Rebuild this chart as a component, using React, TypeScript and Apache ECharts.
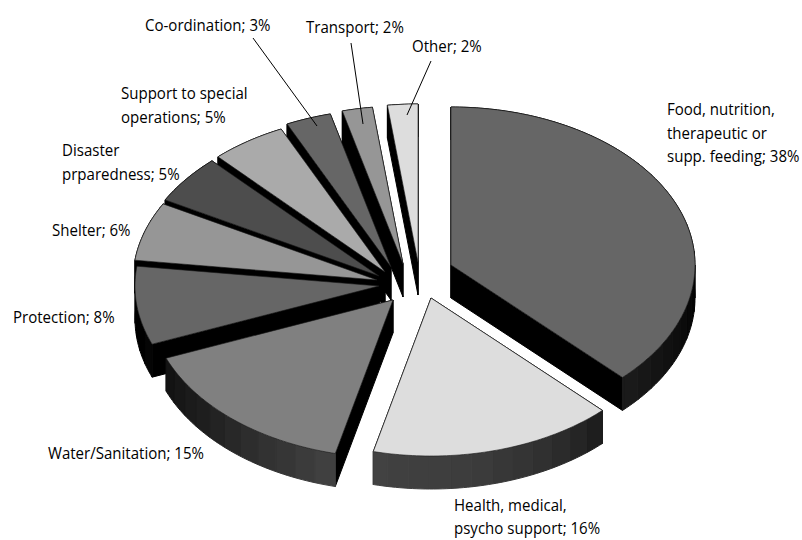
import React, { useEffect, useRef } from "react";
import * as echarts from "echarts";

// Data, clockwise from 12 o'clock
const categories = [
  "Food, nutrition,\ntherapeutic or\nsupp. feeding; 38%",
  "Health, medical,\npsycho support; 16%",
  "Water/Sanitation; 15%",
  "Protection; 8%",
  "Shelter; 6%",
  "Disaster\nprparedness; 5%",
  "Support to special\noperations; 5%",
  "Co-ordination; 3%",
  "Transport; 2%",
  "Other; 2%",
];
const shares = [37.6, 16.2, 15.2, 8, 6, 5, 5, 3, 2, 2];

// Styling and layout, apart from the data
const topColors = ["#666666", "#dddddd", "#808080", "#666666", "#969696", "#4d4d4d", "#aaaaaa", "#666666", "#969696", "#dddddd"];
const explodeX = [33, 13, -25, -39, -41, -39, -33, -27, -15, 0];
const explodeY = [-15, 18, 20, 6, 0, -4, -8, -13, -16, -18];
const drawOrder = [9, 8, 7, 6, 5, 4, 3, 0, 2, 1];
const labelX = [667, 454, 48, 13, 52, 62, 121, 145, 306, 412];
const labelCenterY = [109, 504.5, 453, 317, 230, 150, 93, 25, 27, 46];
const labelLineStep = 23.5;
const leaderLines = [
  [253, 38, 317, 126],
  [351, 43, 363, 124],
  [431, 61, 407, 115],
];

const CX = 418;
const CY = 280;
const RX = 244;
const RY = 158;
const DEPTH = 33;
const wallStops: [number, number][] = [
  [90, 0], [110, 12], [136, 28], [150, 46], [170, 60], [194, 66], [215, 46], [230, 31], [248, 18], [252, 0], [360, 0],
];

function wallGray(deg: number) {
  let v = 0;
  for (let i = 0; i < wallStops.length - 1; i++) {
    const [a0, g0] = wallStops[i];
    const [a1, g1] = wallStops[i + 1];
    if (deg >= a0 && deg <= a1) v = g0 + ((g1 - g0) * (deg - a0)) / (a1 - a0);
  }
  const h = Math.round(v);
  return `rgb(${h},${h},${h})`;
}

function rim(ax: number, ay: number, deg: number, drop = 0): [number, number] {
  const r = (deg * Math.PI) / 180;
  return [ax + RX * Math.sin(r), ay - RY * Math.cos(r) + drop];
}

function renderSlice(params: any, api: any) {
  const idx = api.value(1);
  const before = shares.slice(0, idx).reduce((s, v) => s + v, 0);
  const total = shares.reduce((s, v) => s + v, 0);
  const a0 = (before / total) * 360;
  const a1 = ((before + api.value(0)) / total) * 360;
  const ax = CX + explodeX[idx];
  const ay = CY + explodeY[idx];
  const children: any[] = [];
  const poly = (points: number[][], fill: string, stroke?: string, lw = 0) => ({
    type: "polygon",
    shape: { points },
    style: { fill, stroke: stroke ?? fill, lineWidth: stroke ? lw : 1 },
  });
  // radial walls
  [a0, a1].forEach((a) => {
    children.push(
      poly([[ax, ay], rim(ax, ay, a), rim(ax, ay, a, DEPTH), [ax, ay + DEPTH]], "#000000")
    );
  });
  // outer wall in bands
  const band = 5;
  for (let a = a0; a < a1 - 0.001; a += band) {
    const e = Math.min(a + band, a1);
    const pts: number[][] = [];
    const back: number[][] = [];
    for (let t = a; t < e; t += 1) {
      pts.push(rim(ax, ay, t));
      back.unshift(rim(ax, ay, t, DEPTH));
    }
    pts.push(rim(ax, ay, e));
    back.unshift(rim(ax, ay, e, DEPTH));
    children.push(poly(pts.concat(back), wallGray((a + e) / 2)));
  }
  // top face
  const top: number[][] = [[ax, ay]];
  for (let t = a0; t < a1; t += 1) top.push(rim(ax, ay, t));
  top.push(rim(ax, ay, a1));
  children.push(poly(top, topColors[idx], "#1a1a1a", 0.6));
  return { type: "group", children };
}

export default function App() {
  const ref = useRef<HTMLDivElement>(null);
  useEffect(() => {
    const chart = echarts.init(ref.current!, null, { renderer: "svg" });
    chart.setOption({
      animation: false,
      backgroundColor: "#ffffff",
      series: [
        {
          type: "custom",
          coordinateSystem: "none",
          renderItem: renderSlice,
          data: drawOrder.map((i) => [shares[i], i]),
          silent: true,
        },
      ],
      graphic: [
        ...categories.flatMap((c, i) =>
          c.split("\n").map((line, k) => ({
            type: "text",
            x: labelX[i],
            y: labelCenterY[i] + k * labelLineStep,
            z: 10,
            scaleX: 0.885,
            style: {
              text: line,
              font: '17px "Open Sans", sans-serif',
              fill: "#000000",
              verticalAlign: "middle",
              lineHeight: 18,
            },
          }))
        ),
        ...leaderLines.map((l) => ({
          type: "line",
          z: 10,
          shape: { x1: l[0], y1: l[1], x2: l[2], y2: l[3] },
          style: { stroke: "#000000", lineWidth: 1 },
        })),
      ],
    });
    return () => chart.dispose();
  }, []);
  return <div ref={ref} style={{ position: "absolute", left: 0, top: 0, width: 802, height: 540 }} />;
}
